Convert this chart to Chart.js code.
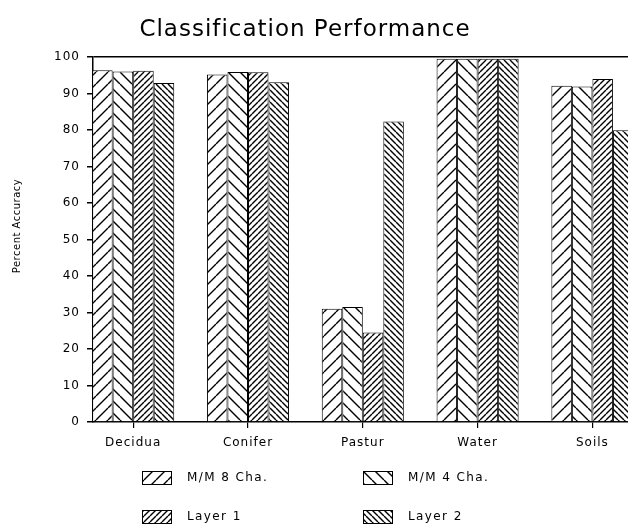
<!DOCTYPE html>
<html>
<head>
<meta charset="utf-8">
<script src="https://cdn.jsdelivr.net/npm/chart.js@4.4.1/dist/chart.umd.min.js"></script>
<style>
    body { margin: 0; background: #fff; }
    canvas { display: block; }
</style>
</head>
<body>
<canvas id="chart" width="628" height="531"></canvas>
<script>
//-- Data//
const categories = ['Decidua', 'Conifer', 'Pastur', 'Water', 'Soils'];
const seriesNames = ['M/M 8 Cha.', 'M/M 4 Cha.', 'Layer 1', 'Layer 2'];
const mm8Values = [96.4, 95.2, 31.0, 99.5, 92.1];
const mm4Values = [96.0, 95.9, 31.5, 99.5, 91.9];
const layer1Values = [96.2, 95.8, 24.5, 99.5, 94.0];
const layer2Values = [92.9, 93.1, 82.3, 99.5, 79.9];
const yTickValues = [0, 10, 20, 30, 40, 50, 60, 70, 80, 90, 100];
const titleText = 'Classification Performance';
const yAxisText = 'Percent Accuracy';

const ctx = document.getElementById('chart').getContext('2d');
const FONT = '"DejaVu Sans", sans-serif';

//-- Hatch fills (plotter style)//
function hatch(gap, dir) {
    const tile = document.createElement('canvas');
    tile.width = gap;
    tile.height = gap;
    const t = tile.getContext('2d');
    t.fillStyle = '#fff';
    t.fillRect(0, 0, gap, gap);
    t.strokeStyle = '#000';
    t.lineWidth = 1.4;
    t.beginPath();
    for (let k = -1; k <= 1; k++) {
        if (dir === '/') {
            t.moveTo(k * gap, gap);
            t.lineTo(k * gap + gap, 0);
        } else {
            t.moveTo(k * gap, 0);
            t.lineTo(k * gap + gap, gap);
        }
    }
    t.stroke();
    return ctx.createPattern(tile, 'repeat');
}

const fills = [hatch(12, '/'), hatch(12, '\\'), hatch(6, '/'), hatch(6, '\\')];
const seriesValues = [mm8Values, mm4Values, layer1Values, layer2Values];

//-- Title, axis title and 2x2 legend drawn on the canvas//
const plotterText = {
    id: 'plotterText',
    beforeDraw(chart) {
        chart.ctx.letterSpacing = '1px';
    },
    afterDraw(chart) {
        const c = chart.ctx;
        c.save();
        c.fillStyle = '#000';

        c.letterSpacing = '1px';
        c.font = '23px ' + FONT;
        c.textAlign = 'center';
        c.textBaseline = 'middle';
        c.fillText(titleText, 305, 30);

        c.save();
        c.letterSpacing = '0.5px';
        c.font = '10px ' + FONT;
        c.translate(17, 226);
        c.rotate(-Math.PI / 2);
        c.fillText(yAxisText, 0, 0);
        c.restore();

        const spots = [[142, 478], [363, 478], [142, 517], [363, 517]];
        c.font = '12px ' + FONT;
        c.textAlign = 'left';
        c.letterSpacing = '1.4px';
        chart.data.datasets.forEach((ds, i) => {
            const [x, y] = spots[i];
            c.fillStyle = ds.backgroundColor;
            c.fillRect(x, y - 7, 30, 14);
            c.strokeStyle = '#000';
            c.lineWidth = 1;
            c.strokeRect(x + 0.5, y - 6.5, 29, 13);
            c.fillStyle = '#000';
            c.fillText(ds.label, x + 45, y);
        });
        c.restore();
    }
};

new Chart(ctx, {
    type: 'bar',
    data: {
        datasets: seriesNames.map((name, s) => ({
            label: name,
            data: seriesValues[s].map((v, i) => ({ x: i, y: v })),
            backgroundColor: fills[s],
            borderColor: '#000',
            borderWidth: 1,
            categoryPercentage: 0.715,
            barPercentage: 1
        }))
    },
    options: {
        responsive: false,
        animation: false,
        events: [],
        layout: { padding: { top: 57, left: 0, right: 0, bottom: 0 } },
        plugins: {
            legend: { display: false },
            title: { display: false },
            tooltip: { enabled: false }
        },
        scales: {
            x: {
                type: 'linear',
                offset: false,
                min: -0.35,
                max: 4.31,
                afterBuildTicks: axis => {
                    axis.ticks = categories.map((_, i) => ({ value: i }));
                },
                afterFit: axis => {
                    axis.height = 109;
                },
                ticks: {
                    callback: v => categories[v],
                    color: '#000',
                    font: { family: FONT, size: 12 },
                    padding: 8,
                    maxRotation: 0,
                    autoSkip: false
                },
                grid: {
                    offset: false,
                    drawOnChartArea: false,
                    color: '#000',
                    tickLength: 6,
                    lineWidth: 1.2
                },
                border: { color: '#000', width: 1.5 }
            },
            y: {
                min: 0,
                max: 100,
                afterBuildTicks: axis => {
                    axis.ticks = yTickValues.map(v => ({ value: v }));
                },
                afterFit: axis => {
                    axis.width = 93;
                },
                ticks: {
                    color: '#000',
                    font: { family: FONT, size: 12 },
                    padding: 7
                },
                grid: {
                    color: c => (c.tick && c.tick.value === 100 ? '#000' : 'rgba(0,0,0,0)'),
                    tickColor: '#000',
                    tickLength: 6,
                    lineWidth: 1.5
                },
                border: { color: '#000', width: 1.5 }
            }
        }
    },
    plugins: [plotterText]
});
</script>
</body>
</html>
